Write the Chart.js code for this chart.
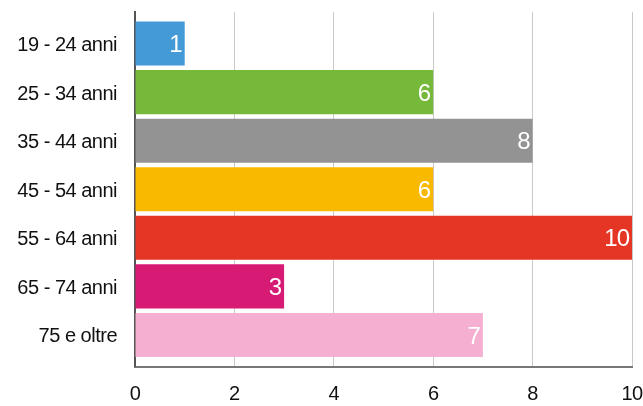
<!DOCTYPE html>
<html>
<head>
<meta charset="utf-8">
<script src="https://cdn.jsdelivr.net/npm/chart.js@4"></script>
<style>
  html, body { margin: 0; padding: 0; background: #fff; }
  #wrap { width: 643px; height: 406px; }
</style>
</head>
<body>
<div id="wrap"><canvas id="ageChart"></canvas></div>
<script>
// Age groups and counts
const ageLabels = ['19 - 24 anni', '25 - 34 anni', '35 - 44 anni', '45 - 54 anni', '55 - 64 anni', '65 - 74 anni', '75 e oltre'];
const ageCounts = [1, 6, 8, 6, 10, 3, 7];
const barColors = ['#4499d7', '#75b83a', '#939393', '#f9b900', '#e53524', '#d71b75', '#f5b0d1'];
const xTicks = [0, 2, 4, 6, 8, 10];

const fontFamily = '"Liberation Sans", Arial, Helvetica, sans-serif';

// the original type is set a little tighter than Arial
const tightText = {
  id: 'tightText',
  beforeLayout(chart) { chart.ctx.letterSpacing = '-0.5px'; },
  beforeDraw(chart) { chart.ctx.letterSpacing = '-0.5px'; }
};

// white value at the end of every bar
const valueLabels = {
  id: 'valueLabels',
  afterDatasetsDraw(chart) {
    const ctx = chart.ctx;
    const meta = chart.getDatasetMeta(0);
    ctx.save();
    ctx.letterSpacing = '-1px';
    ctx.fillStyle = '#ffffff';
    ctx.font = '24px ' + fontFamily;
    ctx.textAlign = 'right';
    ctx.textBaseline = 'middle';
    meta.data.forEach((bar, i) => {
      ctx.fillText(String(ageCounts[i]), bar.x - 3, bar.y + 2);
    });
    ctx.restore();
  }
};

const ctx = document.getElementById('ageChart').getContext('2d');
window.myChart = new Chart(ctx, {
  type: 'bar',
  data: {
    datasets: [{
      data: ageCounts.map((v, i) => ({ x: v, y: i })),
      backgroundColor: barColors,
      borderWidth: 0,
      categoryPercentage: 1,
      barPercentage: 0.907
    }]
  },
  options: {
    indexAxis: 'y',
    responsive: true,
    maintainAspectRatio: false,
    animation: false,
    layout: { padding: { top: 12, right: 11, left: 0, bottom: 0 } },
    plugins: {
      legend: { display: false },
      tooltip: { enabled: false }
    },
    scales: {
      x: {
        type: 'linear',
        min: 0,
        max: 10,
        afterBuildTicks: (scale) => { scale.ticks = xTicks.map(v => ({ value: v })); },
        afterFit: (scale) => {
          scale.height = 39.5;
          scale.paddingLeft = 0;
          scale.paddingRight = 0;
        },
        grid: { color: '#c9c9c9', lineWidth: 1, drawTicks: false },
        border: { display: true, color: '#777777', width: 2 },
        ticks: {
          padding: 16,
          color: '#111111',
          font: { family: fontFamily, size: 20 }
        }
      },
      y: {
        type: 'linear',
        reverse: true,
        offset: false,
        min: -0.65,
        max: 6.65,
        z: 1,
        afterBuildTicks: (scale) => { scale.ticks = ageLabels.map((l, i) => ({ value: i })); },
        afterFit: (scale) => {
          scale.width = 135;
          scale.paddingTop = 0;
          scale.paddingBottom = 0;
        },
        grid: { display: false, drawTicks: false, offset: false },
        border: { display: true, color: '#555555', width: 2 },
        ticks: {
          padding: 18,
          labelOffset: 2,
          color: '#111111',
          font: { family: fontFamily, size: 20 },
          callback: (value) => ageLabels[value]
        }
      }
    }
  },
  plugins: [tightText, valueLabels]
});
</script>
</body>
</html>
